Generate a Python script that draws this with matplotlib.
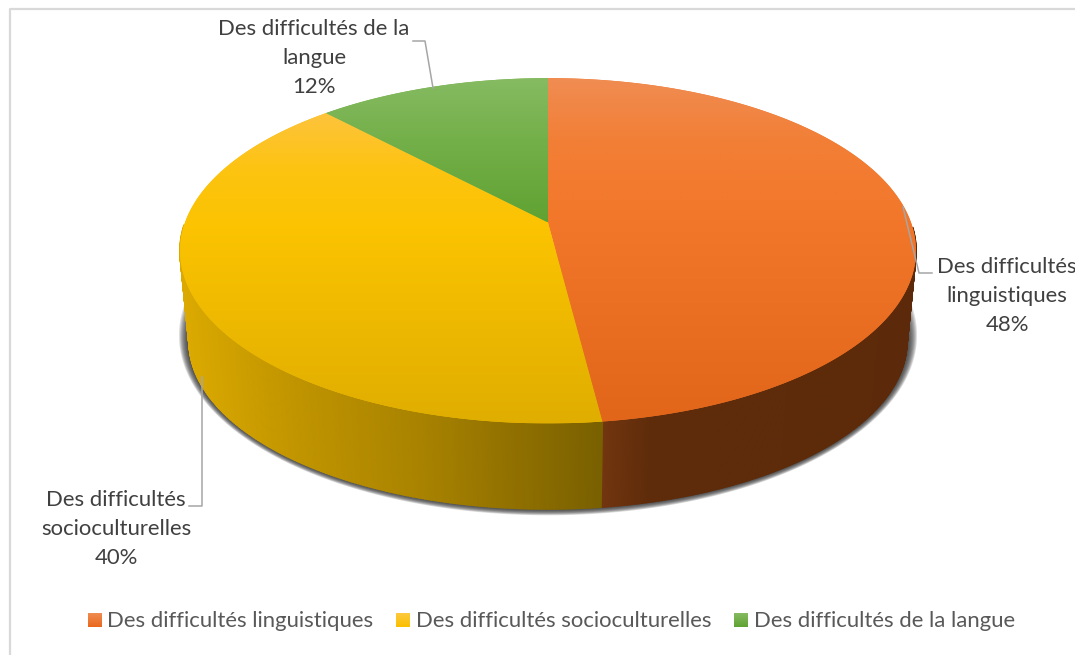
import numpy as np
import matplotlib
matplotlib.use("Agg")
import matplotlib.pyplot as plt
from matplotlib.colors import to_rgb
from matplotlib.patches import Polygon

# ===== data =====
CATEGORIES = ["Des difficultés linguistiques", "Des difficultés socioculturelles", "Des difficultés de la langue"]
VALUES = [48, 40, 12]
WRAPPED = ["Des difficultés\nlinguistiques", "Des difficultés\nsocioculturelles", "Des difficultés de la\nlangue"]

# ===== style =====
W, H = 1075, 655
CX = 548
PERSP = 0.1638
TOP = dict(a=363, b=168, y0=222.5)     # upper face
BOTTOM = dict(a=354, b=163, y0=314)    # lower rim of the side wall

# vertical gradients of the upper face (y pixel, colour)
TOP_GRAD = [
    [(79, "#f08c52"), (140, "#f27f36"), (220, "#f2772a"), (421, "#e2661a")],
    [(115, "#fdc33c"), (170, "#fdc411"), (230, "#fbc300"), (421, "#e0ae00")],
    [(79, "#86bb62"), (140, "#74b04a"), (222, "#60a232")],
]
# horizontal gradients of the side wall (x pixel, colour)
SIDE_GRAD = [
    [(600, "#73360f"), (650, "#5f2c0b"), (920, "#5c2a0a")],
    [(180, "#dcaa00"), (300, "#c09400"), (420, "#a98300"), (520, "#8f6f00"), (602, "#796000")],
    [(180, "#4f7f2f"), (920, "#4f7f2f")],
]
LEGEND_GRAD = [
    [(0, "#f08c52"), (1, "#e9681c")],
    [(0, "#fdc93f"), (1, "#fbc000")],
    [(0, "#86bb62"), (1, "#60a232")],
]
LEADER = "#a6a6a6"
LABEL_POS = [(1007, 296), (116, 529), (314, 58)]
LEGEND_X = [88, 396, 734]
LEGEND_TXT_X = [107, 416, 754]

plt.rcParams["font.family"] = ["Lato", "DejaVu Sans"]


def rim(t, g):
    # perspective circle, t clockwise from the top
    u, v = np.sin(t), np.cos(t)
    w = 1 + PERSP * v
    return CX + g["a"] * u / w, g["y0"] - g["b"] * v / w


def ramp(stops, n=None, pos=None):
    xs = [s[0] for s in stops]
    cs = np.array([to_rgb(s[1]) for s in stops])
    if pos is None:
        pos = np.linspace(xs[0], xs[-1], n)
    return np.stack([np.interp(pos, xs, cs[:, i]) for i in range(3)], axis=-1)


fig = plt.figure(figsize=(W / 100, H / 100), dpi=100)
ax = fig.add_axes([0, 0, 1, 1])

# frame
ax.plot([9.5, 9.5, W], [H, 9, 9], color="#d9d9d9", lw=1.6, zorder=1)

edges = np.cumsum([0] + VALUES) / sum(VALUES) * 2 * np.pi

# soft shadow: stacked copies of the lower rim, widest first (front part only)
ts = np.linspace(np.radians(70), np.radians(290), 300)
for f in np.linspace(1, 0.2, 9):
    g = dict(a=354 + 10 * f, b=163 + 12 * f, y0=314 - 8 * f)
    sx, sy = rim(ts, g)
    ax.add_patch(Polygon(np.column_stack([sx, sy]), closed=True, facecolor="#2a2a2a", edgecolor="none",
                         alpha=0.16, zorder=2))

# side wall, thin quads back to front
for i in range(len(VALUES)):
    ts = np.linspace(edges[i], edges[i + 1], int(VALUES[i] * 8) + 2)
    tx, ty = rim(ts, TOP)
    bx, by = rim(ts, BOTTOM)
    cols = ramp(SIDE_GRAD[i], pos=(tx + bx) / 2)
    for j in range(len(ts) - 1):
        if np.cos(ts[j]) > -0.02:
            continue
        ax.add_patch(Polygon([(tx[j], ty[j]), (tx[j + 1], ty[j + 1]), (bx[j + 1], by[j + 1]), (bx[j], by[j])],
                             closed=True, facecolor=cols[j], edgecolor=cols[j], lw=1.2, zorder=3))

# upper face
for i in range(len(VALUES)):
    ts = np.linspace(edges[i], edges[i + 1], int(VALUES[i] * 8) + 2)
    tx, ty = rim(ts, TOP)
    pts = np.vstack([[CX, TOP["y0"]], np.column_stack([tx, ty])])
    y0, y1 = pts[:, 1].min(), pts[:, 1].max()
    rows = ramp(TOP_GRAD[i], pos=np.linspace(y0, y1, 256))[:, None, :]
    patch = Polygon(pts, closed=True, facecolor=rows[128, 0], edgecolor="none", zorder=4)
    ax.add_patch(patch)
    im = ax.imshow(rows, extent=(pts[:, 0].min(), pts[:, 0].max(), y1, y0), aspect="auto", zorder=4.1, interpolation="bilinear")
    im.set_clip_path(patch)

# leader lines
ax.plot([903, 919, 932], [207, 273, 273], color=LEADER, lw=1.1, zorder=5)
ax.plot([202, 202, 189], [377, 506, 506], color=LEADER, lw=1.1, zorder=5)
ax.plot([413, 425, 433], [41, 41, 88], color=LEADER, lw=1.1, zorder=5)

# data labels
for i in range(len(VALUES)):
    ax.text(LABEL_POS[i][0], LABEL_POS[i][1], f"{WRAPPED[i]}\n{VALUES[i]}%", ha="center", va="center",
            fontsize=15.9, color="#404040", linespacing=1.55, zorder=6)

# legend
for i in range(len(VALUES)):
    x = LEGEND_X[i]
    ax.imshow(ramp(LEGEND_GRAD[i], n=32)[:, None, :], extent=(x, x + 14, 627, 613), aspect="auto", zorder=6)
    ax.text(LEGEND_TXT_X[i], 621, CATEGORIES[i], ha="left", va="center", fontsize=15.9, color="#595959", zorder=6)

ax.set_xlim(0, W)
ax.set_ylim(H, 0)
ax.axis("off")
fig.savefig("out.png", dpi=100, facecolor="white")
